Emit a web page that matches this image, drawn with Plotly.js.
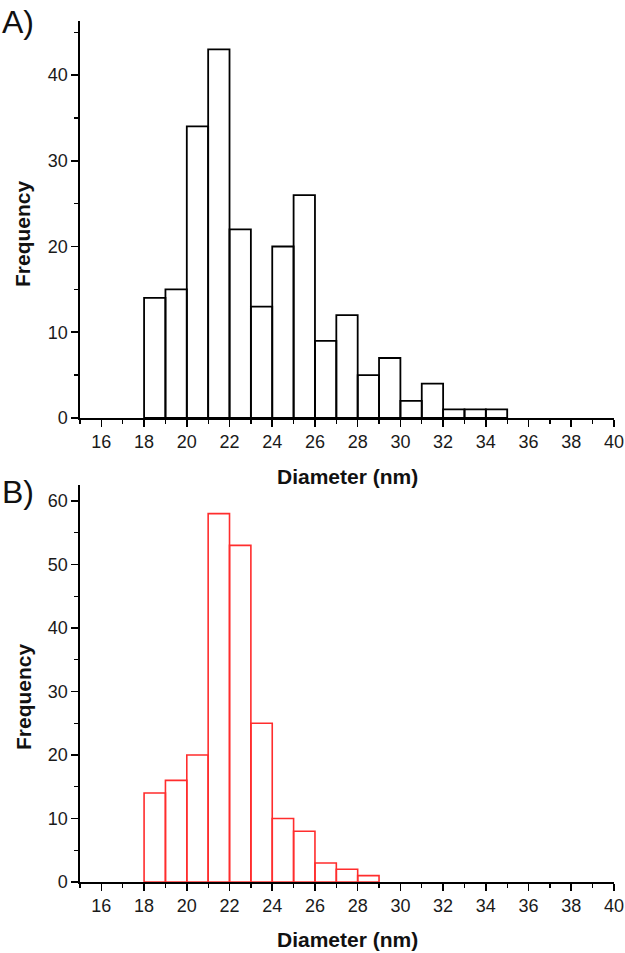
<!DOCTYPE html>
<html>
<head>
<meta charset="utf-8">
<script src="https://cdn.plot.ly/plotly-3.0.1.min.js"></script>
<style>html,body{margin:0;padding:0;background:#fff;}#chart{width:625px;height:953px;}</style>
</head>
<body>
<div id="chart"></div>
<script>
// Bin left edges (nm), bin width 1 nm
const binStartsA = [18,19,20,21,22,23,24,25,26,27,28,29,30,31,32,33,34];
const countsA    = [14,15,34,43,22,13,20,26, 9,12, 5, 7, 2, 4, 1, 1, 1];
const binStartsB = [18,19,20,21,22,23,24,25,26,27,28];
const countsB    = [14,16,20,58,53,25,10, 8, 3, 2, 1];
const xTickVals  = [16,18,20,22,24,26,28,30,32,34,36,38,40];
const xTickText  = ["16","18","20","22","24","26","28","30","32","34","36","38","40"];
const xMinorVals = [15,17,19,21,23,25,27,29,31,33,35,37,39];
const panelLabels = ["A)", "B)"];
const xTitle = "Diameter (nm)";
const yTitle = "Frequency";

const tickFont = {family: "Liberation Sans, Arial, sans-serif", size: 18, color: "#1a1a1a"};
const titleFont = {family: "Liberation Sans, Arial, sans-serif", size: 21, color: "#111", weight: "bold"};

function xAxis(anchor) {
  return {
    anchor: anchor, range: [15, 40], domain: [0, 1],
    showline: true, linecolor: "#000", linewidth: 1.6,
    ticks: "outside", ticklen: 7, tickwidth: 1.6, tickcolor: "#000",
    tickvals: xTickVals, ticktext: xTickText,
    minor: {tickvals: xMinorVals, ticks: "outside", ticklen: 4, tickwidth: 1.3, tickcolor: "#000"},
    showgrid: false, zeroline: false, tickfont: tickFont, fixedrange: true
  };
}
function yAxis(anchor, domain, top) {
  return {
    anchor: anchor, domain: domain, range: [0, top],
    showline: true, linecolor: "#000", linewidth: 1.6,
    ticks: "outside", ticklen: 7, tickwidth: 1.6, tickcolor: "#000",
    dtick: 10, tick0: 0,
    minor: {dtick: 5, ticks: "outside", ticklen: 4, tickwidth: 1.3, tickcolor: "#000"},
    showgrid: false, zeroline: false, tickfont: tickFont, fixedrange: true
  };
}

const traces = [
  {type: "bar", x: binStartsA, y: countsA, offset: 0, width: 1, xaxis: "x", yaxis: "y",
   marker: {color: "rgba(255,255,255,0)", line: {color: "#000", width: 1.8}}, showlegend: false, hoverinfo: "x+y"},
  {type: "bar", x: binStartsB, y: countsB, offset: 0, width: 1, xaxis: "x2", yaxis: "y2",
   marker: {color: "rgba(255,255,255,0)", line: {color: "rgb(255,45,45)", width: 1.6}}, showlegend: false, hoverinfo: "x+y"}
];

const plotH = 953 - 21 - 71;
const yDomA = [(882 - 418) / plotH, 1];
const yDomB = [0, (882 - 485) / plotH];

const layout = {
  width: 625, height: 953,
  margin: {l: 80, r: 11, t: 21, b: 71},
  paper_bgcolor: "#fff", plot_bgcolor: "#fff",
  bargap: 0,
  xaxis: xAxis("y"),
  yaxis: yAxis("x", yDomA, 46.3),
  xaxis2: xAxis("y2"),
  yaxis2: yAxis("x2", yDomB, 62.5),
  annotations: [
    {text: panelLabels[0], xref: "paper", yref: "paper", x: -80/534, y: (882 - 2)/plotH, xanchor: "left", yanchor: "top", showarrow: false,
     font: {family: "Liberation Sans, Arial, sans-serif", size: 32, color: "#111"}},
    {text: panelLabels[1], xref: "paper", yref: "paper", x: -80/534, y: (882 - 472)/plotH, xanchor: "left", yanchor: "top", showarrow: false,
     font: {family: "Liberation Sans, Arial, sans-serif", size: 32, color: "#111"}},
    {text: yTitle, xref: "paper", yref: "paper", x: (23 - 80)/534, y: (882 - 234)/plotH, xanchor: "center", yanchor: "middle", textangle: -90, showarrow: false, font: titleFont},
    {text: yTitle, xref: "paper", yref: "paper", x: (23 - 80)/534, y: (882 - 697)/plotH, xanchor: "center", yanchor: "middle", textangle: -90, showarrow: false, font: titleFont},
    {text: xTitle, xref: "paper", yref: "paper", x: (347 - 80)/534, y: (882 - 476)/plotH, xanchor: "center", yanchor: "middle", showarrow: false, font: titleFont},
    {text: xTitle, xref: "paper", yref: "paper", x: (347 - 80)/534, y: (882 - 940)/plotH, xanchor: "center", yanchor: "middle", showarrow: false, font: titleFont}
  ]
};

Plotly.newPlot("chart", traces, layout, {displayModeBar: false, staticPlot: true});
</script>
</body>
</html>
